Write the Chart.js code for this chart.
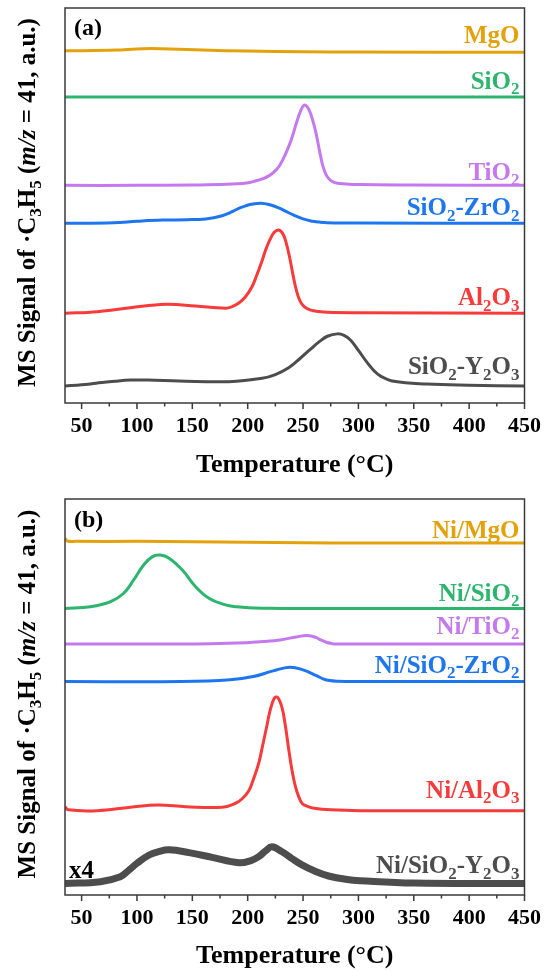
<!DOCTYPE html>
<html>
<head>
<meta charset="utf-8">
<script src="https://cdn.jsdelivr.net/npm/chart.js@4.4.0/dist/chart.umd.min.js"></script>
<style>
  html, body { margin: 0; padding: 0; background: #fff; }
  .panel { position: absolute; left: 0; width: 551px; height: 486px; }
</style>
</head>
<body>
<div class="panel" style="top:0"><canvas id="chartA"></canvas></div>
<div class="panel" style="top:486px"><canvas id="chartB"></canvas></div>
<script>
// Temperatura (°C) en el eje x
const xTicks = [50, 100, 150, 200, 250, 300, 350, 400, 450];
const xMinorTicks = [75, 125, 175, 225, 275, 325, 375, 425];

// ---- Panel (a): soportes ----
// cada curva: temperaturas y señal sobre su propia línea base (u.a.)
const mgoT = [35, 81, 100, 112, 130, 160, 200, 250, 300, 450];
const mgoS = [0.35, 0.55, 0.85, 0.93, 0.85, 0.55, 0.3, 0.15, 0.05, 0];
const sio2T = [35, 250, 450];
const sio2S = [0, 0, 0];
const tio2T = [35, 100, 150, 180, 199, 207, 214, 219, 223, 226, 229, 233, 238, 241, 244, 248, 251, 254, 257, 260, 262, 264, 266, 268, 271, 274, 277, 281, 286, 300, 350, 450];
const tio2S = [0, 0, 0.1, 0.25, 0.6, 1.1, 1.7, 2.4, 3.2, 4.0, 5.1, 7.2, 10.5, 13.0, 15.8, 19.0, 20.3, 19.8, 18.0, 15.2, 12.8, 10.0, 7.2, 4.8, 2.6, 1.5, 0.9, 0.55, 0.4, 0.2, 0.1, 0];
const zrT = [35, 79, 100, 123, 145, 162, 177, 185, 192, 198, 203, 212, 220, 228, 236, 243, 250, 257, 265, 272, 300, 450];
const zrS = [0, 0.15, 0.5, 0.8, 0.9, 1.1, 1.9, 2.8, 3.8, 4.4, 4.8, 5.1, 4.7, 3.9, 2.8, 1.9, 1.1, 0.6, 0.3, 0.15, 0.05, 0];
const alT = [35, 64, 94, 126, 153, 180, 186, 192, 198, 204, 208, 213, 216, 220, 224, 228, 232, 235, 238, 241, 244, 247, 251, 257, 264, 272, 300, 450];
const alS = [0, 0.4, 1.4, 2.3, 1.85, 1.3, 1.7, 2.6, 4.2, 6.8, 9.5, 13.3, 15.9, 18.6, 20.5, 21.1, 20.0, 17.6, 14.0, 9.6, 5.8, 3.3, 1.7, 0.8, 0.45, 0.25, 0.15, 0];
const yoT = [35, 50, 63, 80, 94, 110, 138, 183, 213, 225, 237, 247, 257, 265, 272, 281, 287, 293, 300, 308, 314, 320, 332, 362, 400, 450];
const yoS = [0, 0.3, 0.7, 1.2, 1.5, 1.5, 1.27, 1.1, 1.95, 2.9, 4.6, 6.9, 9.4, 11.3, 12.6, 13.2, 12.8, 11.6, 9.0, 5.9, 3.9, 2.5, 1.2, 0.5, 0.2, 0];

// ---- Panel (b): catalizadores de Ni ----
const nmgT = [35, 37, 45, 100, 150, 200, 250, 300, 450];
const nmgS = [1.2, 0.5, 0.4, 0.4, 0.3, 0.15, 0.05, 0, 0];
const nsiT = [35, 58, 76, 88, 97, 106, 114, 121, 129, 141, 153, 165, 180, 190, 201, 220, 249, 450];
const nsiS = [0, 0.45, 1.7, 3.85, 7.2, 11.0, 13.1, 13.5, 12.7, 9.7, 5.5, 2.6, 0.9, 0.45, 0.2, 0.05, 0, 0];
const ntiT = [35, 140, 199, 214, 229, 244, 254, 262, 266, 271, 275, 280, 450];
const ntiS = [0, 0, 0.33, 0.6, 1.0, 1.77, 2.1, 1.6, 1.0, 0.43, 0.15, 0, 0];
const nzrT = [35, 140, 184, 205, 223, 238, 250, 262, 268, 274, 282, 294, 450];
const nzrS = [0, 0, 0.43, 1.26, 2.7, 3.64, 2.95, 1.5, 0.7, 0.25, 0.08, 0, 0];
const nalT = [35, 38, 64, 94, 119, 144, 177, 189, 195, 201, 205, 210, 213, 217, 220, 224, 227, 231, 234, 237, 240, 243, 246, 249, 254, 260, 275, 302, 450];
const nalS = [1.0, 0.2, 0, 0.86, 1.44, 1.0, 0.86, 1.87, 3.0, 5.0, 7.8, 12.0, 15.8, 21.0, 25.0, 28.4, 28.6, 26.0, 21.5, 15.6, 10.2, 6.2, 3.6, 1.9, 1.1, 0.6, 0.2, 0, 0];
const nyoT = [35, 67, 85, 92, 100, 111, 120, 129, 147, 168, 192, 203, 210, 216, 222, 231, 240, 249, 260, 273, 290, 302, 350, 450];
const nyoS = [0, 0.45, 1.7, 3.2, 5.1, 7.2, 8.1, 8.5, 7.8, 6.6, 5.25, 5.8, 6.8, 8.2, 9.3, 8.0, 6.3, 4.7, 3.2, 1.9, 1.0, 0.7, 0.1, 0];

// desplazamiento vertical de cada curva (apiladas)
const offsetsA = [88.8, 77.5, 55.1, 45.5, 22.7, 4.3];
const offsetsB = [88.9, 72.35, 63.4, 53.9, 21.3, 2.9];

const namesA = ['MgO', 'SiO_2', 'TiO_2', 'SiO_2-ZrO_2', 'Al_2O_3', 'SiO_2-Y_2O_3'];
const namesB = ['Ni/MgO', 'Ni/SiO_2', 'Ni/TiO_2', 'Ni/SiO_2-ZrO_2', 'Ni/Al_2O_3', 'Ni/SiO_2-Y_2O_3'];
const yTitle = 'MS Signal of \u00B7C_3H_5 (*m/z* = 41, a.u.)';

const colors = ['#E3A20B', '#2DB56E', '#C47AEE', '#1E76EF', '#F73B3B', '#4D4D4D'];
const serif = '"Liberation Serif", "Times New Roman", serif';

// '_' = subíndice de un carácter, '*' abre/cierra cursiva
function parseRich(str) {
    const parts = [];
    let italic = false;
    for (let i = 0; i < str.length; i++) {
        const c = str[i];
        if (c === '*') { italic = !italic; continue; }
        if (c === '_') { parts.push({ t: str[i + 1], sub: true, it: italic }); i++; continue; }
        const last = parts[parts.length - 1];
        if (last && !last.sub && last.it === italic) last.t += c;
        else parts.push({ t: c, sub: false, it: italic });
    }
    return parts;
}

function fontFor(p, size) {
    const s = p.sub ? Math.round(size * 0.68) : size;
    return (p.it ? 'italic ' : '') + 'bold ' + s + 'px ' + serif;
}

function drawRich(ctx, str, x, y, size, color, align) {
    const parts = parseRich(str);
    let total = 0;
    parts.forEach(p => { ctx.font = fontFor(p, size); p.w = ctx.measureText(p.t).width; total += p.w; });
    let cx = align === 'right' ? x - total : (align === 'center' ? x - total / 2 : x);
    ctx.fillStyle = color;
    ctx.textBaseline = 'alphabetic';
    ctx.textAlign = 'left';
    parts.forEach(p => {
        ctx.font = fontFor(p, size);
        ctx.fillText(p.t, cx, p.sub ? y + size * 0.22 : y);
        cx += p.w;
    });
}

// marco, marcas del eje x, nombres de las curvas y título del eje y
function makeDecor(cfg) {
    return {
        id: 'panelDecor',
        afterDatasetsDraw(chart) {
            const { ctx, chartArea: a, scales: { x, y } } = chart;
            ctx.save();
            ctx.strokeStyle = '#3a3a3a';
            ctx.lineWidth = 1.5;
            ctx.strokeRect(a.left, a.top, a.right - a.left, a.bottom - a.top);
            ctx.beginPath();
            xTicks.forEach(v => { const px = x.getPixelForValue(v); ctx.moveTo(px, a.bottom); ctx.lineTo(px, a.bottom + 6); });
            xMinorTicks.forEach(v => { const px = x.getPixelForValue(v); ctx.moveTo(px, a.bottom); ctx.lineTo(px, a.bottom + 3.5); });
            ctx.stroke();

            cfg.names.forEach((name, i) => {
                const py = y.getPixelForValue(cfg.offsets[i]) - cfg.lifts[i];
                drawRich(ctx, name, a.right - 5, py, 25, colors[i], 'right');
            });
            drawRich(ctx, cfg.letter, a.left + 9, a.top + cfg.letterY, 24, '#000', 'left');
            if (cfg.note) {
                const py = y.getPixelForValue(cfg.offsets[5]) - cfg.note.lift;
                drawRich(ctx, cfg.note.text, a.left + 4, py, 25, '#000', 'left');
            }

            ctx.translate(35, (a.top + a.bottom) / 2 - 3);
            ctx.rotate(-Math.PI / 2);
            drawRich(ctx, yTitle, 0, 0, 25, '#000', 'center');
            ctx.restore();
        }
    };
}

function buildDatasets(temps, signals, offsets, widths) {
    return temps.map((T, i) => ({
        data: T.map((t, j) => ({ x: t, y: signals[i][j] + offsets[i] })),
        borderColor: colors[i],
        borderWidth: widths[i],
        pointRadius: 0,
        tension: 0.4,
        fill: false
    }));
}

function makeChart(id, datasets, top, axisHeight, titlePad, decor) {
    return new Chart(document.getElementById(id), {
        type: 'line',
        data: { datasets: datasets },
        options: {
            responsive: true,
            maintainAspectRatio: false,
            animation: false,
            layout: { padding: { left: 65, right: 24, top: top, bottom: 0 } },
            plugins: { legend: { display: false }, tooltip: { enabled: false } },
            scales: {
                x: {
                    type: 'linear',
                    min: 35,
                    max: 450,
                    afterBuildTicks: s => { s.ticks = xTicks.map(v => ({ value: v })); },
                    afterFit: s => { s.height = axisHeight; },
                    grid: { display: false, drawTicks: false },
                    border: { display: false },
                    ticks: {
                        padding: 10,
                        maxRotation: 0,
                        autoSkip: false,
                        color: '#000',
                        font: { family: serif, size: 22, weight: 'bold' }
                    },
                    title: {
                        display: true,
                        text: 'Temperature (\u00B0C)',
                        color: '#000',
                        padding: { top: 0, bottom: titlePad },
                        font: { family: serif, size: 26, weight: 'bold' }
                    }
                },
                y: { display: false, min: 0, max: 100 }
            }
        },
        plugins: [decor]
    });
}

makeChart('chartA',
    buildDatasets([mgoT, sio2T, tio2T, zrT, alT, yoT], [mgoS, sio2S, tio2S, zrS, alS, yoS], offsetsA, [3, 3, 3, 3, 3, 3]),
    8, 83, 5.4,
    makeDecor({ names: namesA, offsets: offsetsA, lifts: [9.5, 8, 5.5, 8, 8, 12], letter: '(a)', letterY: 27 }));

makeChart('chartB',
    buildDatasets([nmgT, nsiT, ntiT, nzrT, nalT, nyoT], [nmgS, nsiS, ntiS, nzrS, nalS, nyoS], offsetsB, [3, 3, 3, 3, 3, 7]),
    13, 77, 0,
    makeDecor({ names: namesB, offsets: offsetsB, lifts: [5, 7.5, 10, 8.7, 12.7, 10.5], letter: '(b)', letterY: 28,
        note: { text: 'x4', lift: 5.5 } }));
</script>
</body>
</html>
